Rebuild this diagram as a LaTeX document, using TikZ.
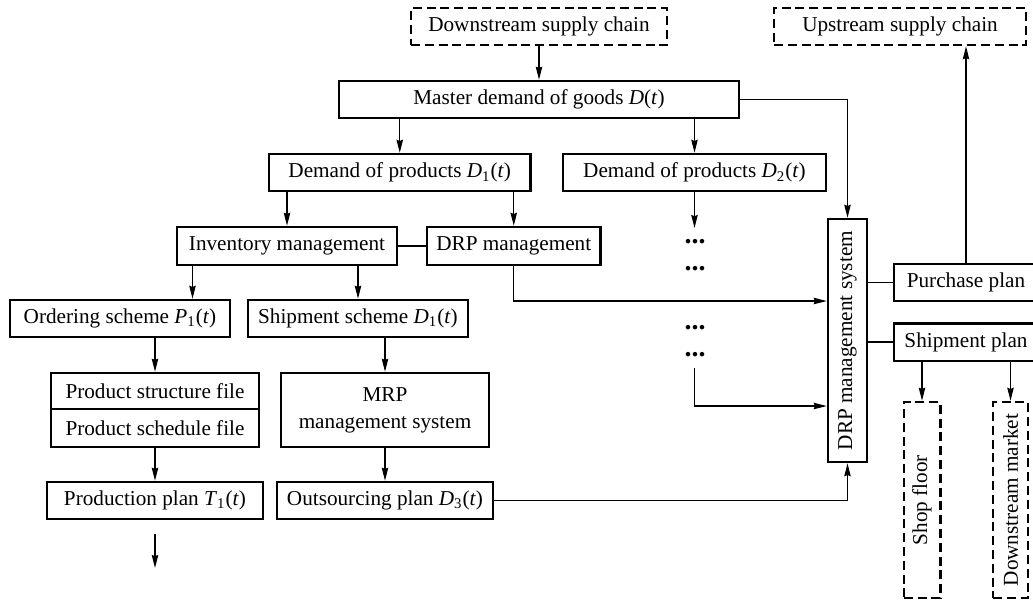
\documentclass[tikz,border=0pt]{standalone}
\usepackage{fontspec}
\usepackage{graphicx}
\setmainfont{Liberation Serif}
\usetikzlibrary{arrows.meta}
\newcommand{\sbs}[1]{\textsubscript{#1}}
\begin{document}
\begin{tikzpicture}[x=0.5pt,y=-0.5pt,
  box/.style={draw, line width=1.25pt, inner sep=0pt, align=center,
    font=\fontsize{10.6}{13.5}\selectfont},
  dbox/.style={box, dash pattern=on 4.5pt off 2.4pt},
  arr/.style={line width=0.65pt, -{Stealth[length=6.5pt,width=3.2pt,inset=0.6pt]}},
  ln/.style={line width=0.65pt},
  dotnode/.style={inner sep=0pt, anchor=base, font=\fontsize{14}{14}\selectfont\bfseries}]
\useasboundingbox (0,0) rectangle (1033,602);
% nodes
\node[dbox, minimum width=128pt, minimum height=18.5pt] (ds) at (539,26.5) {Downstream supply chain};
\node[dbox, minimum width=126pt, minimum height=18.5pt] (us) at (900,26.5) {Upstream supply chain};
\node[box, minimum width=200pt, minimum height=18.5pt] (master) at (539,99.5) {Master demand of goods \textit{D}(\textit{t})};
\node[box, minimum width=130.75pt, minimum height=18.5pt] (d1) at (399.75,172.5) {Demand of products \textit{D}\sbs{1}(\textit{t})};
\node[box, minimum width=131.5pt, minimum height=18.5pt] (d2) at (694.5,172.5) {Demand of products \textit{D}\sbs{2}(\textit{t})};
\node[box, minimum width=110pt, minimum height=19pt] (inv) at (287,246) {Inventory management};
\node[box, minimum width=86.75pt, minimum height=19pt] (drpm) at (513.75,246) {DRP management};
\node[box, minimum width=110pt, minimum height=18.5pt] (ord) at (120,318.5) {Ordering scheme \textit{P}\sbs{1}(\textit{t})};
\node[box, minimum width=110pt, minimum height=18.5pt] (shs) at (358,318.5) {Shipment scheme \textit{D}\sbs{1}(\textit{t})};
\node[box, minimum width=104pt, minimum height=18pt] (psf) at (155,391) {Product structure file};
\node[box, minimum width=104pt, minimum height=19pt] (pscf) at (155,428) {Product schedule file};
\node[box, minimum width=104pt, minimum height=37pt] (mrp) at (385,410) {MRP\\management system};
\node[box, minimum width=108pt, minimum height=18.5pt] (prod) at (155,500.5) {Production plan \textit{T}\sbs{1}(\textit{t})};
\node[box, minimum width=108pt, minimum height=18.5pt] (outs) at (385,500.5) {Outsourcing plan \textit{D}\sbs{3}(\textit{t})};
\node[box, minimum width=19.5pt, minimum height=121.5pt] (drps) at (847.5,340.5) {\rotatebox{90}{DRP management system}};
\node[box, minimum width=72pt, minimum height=18.5pt] (pp) at (966,282.5) {Purchase plan};
\node[box, minimum width=72pt, minimum height=18.75pt] (spl) at (966,342) {Shipment plan};
\node[dbox, minimum width=18.25pt, minimum height=98pt] (shop) at (922,500) {\rotatebox{90}{Shop floor}};
\node[dbox, minimum width=17.5pt, minimum height=98pt] (dm) at (1010.5,500) {\rotatebox{90}{Downstream market}};
% dots
\node[dotnode] (dots1) at (695,243) {...};
\node[dotnode] (dots2) at (695,270) {...};
\node[dotnode] (dots3) at (695,329) {...};
\node[dotnode] (dots4) at (695,356) {...};
% helper coordinates
\coordinate (dtop) at (694.5,228);
\coordinate (dbot) at (694.5,368);
\coordinate (ya) at (0,301);
\coordinate (yb) at (0,406);
\coordinate (xo) at (192.5,0);
\coordinate (pa) at (155,534);
\coordinate (pb) at (155,568);
% connectors
\draw[arr] (ds.south) -- (master.north);
\draw[arr] (master.south -| d1) -- (d1.north);
\draw[arr] (master.south -| d2) -- (d2.north);
\draw[arr] (master.east) -| (drps.north);
\draw[arr] (d1.south -| inv) -- (inv.north);
\draw[arr] (d1.south -| drpm) -- (drpm.north);
\draw[ln] (inv.east) -- (drpm.west);
\draw[arr] (inv.south -| xo) -- (ord.north -| xo);
\draw[arr] (inv.south -| shs) -- (shs.north);
\draw[arr] (drpm.south) |- (drps.west |- ya);
\draw[arr] (d2.south) -- (dtop);
\draw[arr] (dbot) |- (drps.west |- yb);
\draw[arr] (ord.south -| psf) -- (psf.north);
\draw[arr] (shs.south -| mrp) -- (mrp.north);
\draw[arr] (pscf.south) -- (prod.north);
\draw[arr] (mrp.south) -- (outs.north);
\draw[arr] (pa) -- (pb);
\draw[arr] (outs.east) -| (drps.south);
\draw[ln] (drps.east |- pp.west) -- (pp.west);
\draw[ln] (drps.east |- spl.west) -- (spl.west);
\draw[arr] (pp.north) -- (pp.north |- us.south);
\draw[arr] (spl.south -| shop) -- (shop.north);
\draw[arr] (spl.south -| dm) -- (dm.north);
\end{tikzpicture}
\end{document}
